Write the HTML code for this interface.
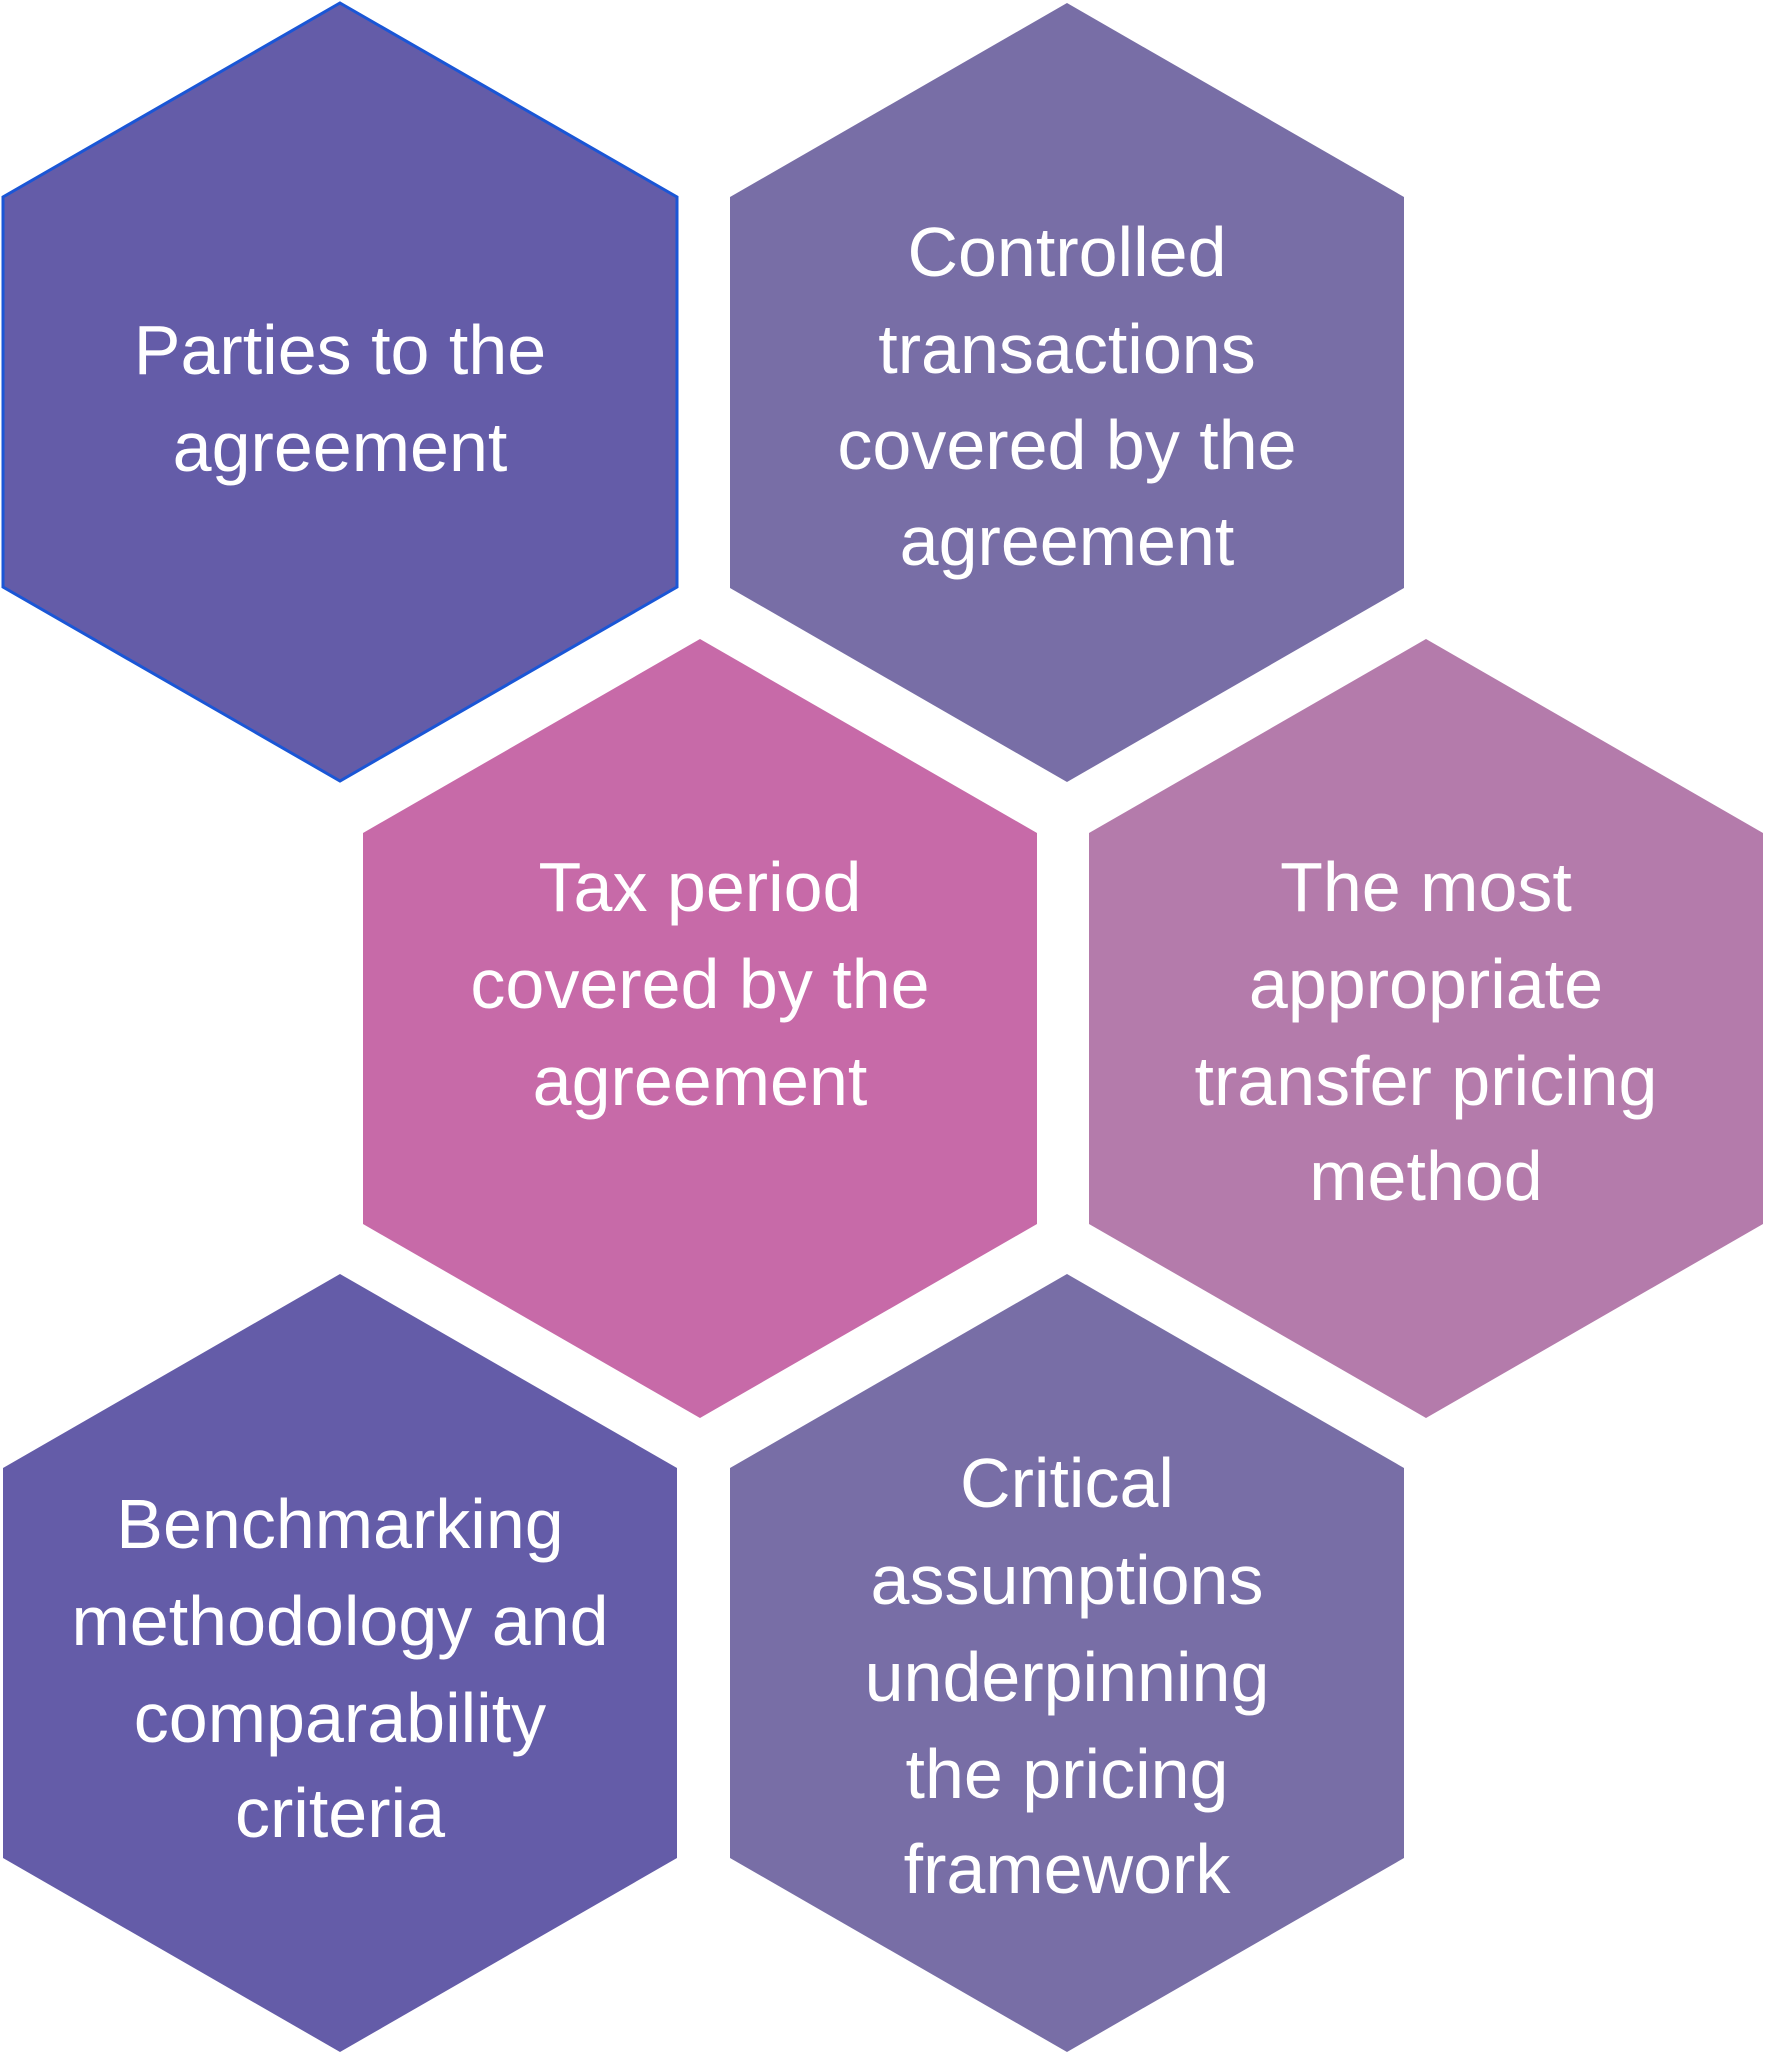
<!DOCTYPE html>
<html><head><meta charset="utf-8"><style>
html,body{margin:0;padding:0;background:#fff;}
svg{display:block}
text{font-family:"Liberation Sans",sans-serif;font-size:70px;fill:#fff;text-anchor:middle;}
</style></head><body>
<svg width="1765" height="2054" viewBox="0 0 1765 2054" xmlns="http://www.w3.org/2000/svg">
<polygon points="340,3 677,197 677,587 340,781 3,587 3,197" fill="#645ca8" stroke="#1a56d6" stroke-width="3"/>
<polygon points="1067,3 1404,197 1404,588 1067,782 730,588 730,197" fill="#786ea6"/>
<polygon points="700,639 1037,833 1037,1224 700,1418 363,1224 363,833" fill="#c76aa8"/>
<polygon points="1426,639 1763,833 1763,1224 1426,1418 1089,1224 1089,833" fill="#b47bab"/>
<polygon points="340,1274 677,1468 677,1858 340,2052 3,1858 3,1468" fill="#645ca8"/>
<polygon points="1067,1274 1404,1468 1404,1858 1067,2052 730,1858 730,1468" fill="#786ea6"/>
<text x="340" y="374">Parties to the</text>
<text x="340" y="471">agreement</text>
<text x="1067" y="276">Controlled</text>
<text x="1067" y="373">transactions</text>
<text x="1067" y="469">covered by the</text>
<text x="1067" y="565">agreement</text>
<text x="700" y="911">Tax period</text>
<text x="700" y="1008">covered by the</text>
<text x="700" y="1105">agreement</text>
<text x="1426" y="911">The most</text>
<text x="1426" y="1008">appropriate</text>
<text x="1426" y="1105">transfer pricing</text>
<text x="1426" y="1200">method</text>
<text x="340" y="1548">Benchmarking</text>
<text x="340" y="1645">methodology and</text>
<text x="340" y="1742">comparability</text>
<text x="340" y="1837">criteria</text>
<text x="1067" y="1507">Critical</text>
<text x="1067" y="1604">assumptions</text>
<text x="1067" y="1701">underpinning</text>
<text x="1067" y="1798">the pricing</text>
<text x="1067" y="1893">framework</text>
</svg>
</body></html>
